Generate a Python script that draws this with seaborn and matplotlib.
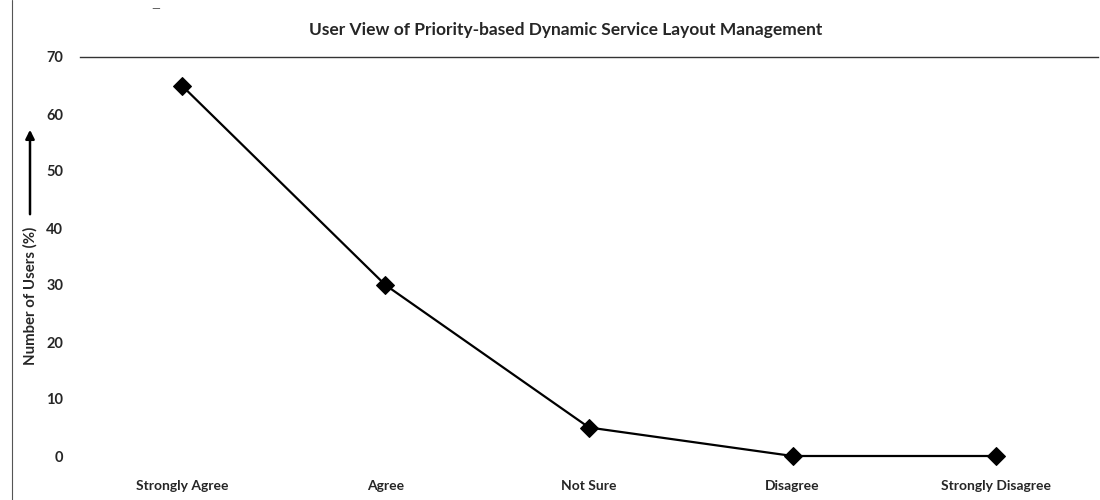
import matplotlib
matplotlib.use("Agg")
import matplotlib.pyplot as plt
import seaborn as sns
import pandas as pd
from matplotlib.lines import Line2D

categories = ["Strongly Agree", "Agree", "Not Sure", "Disagree", "Strongly Disagree"]
users_pct = [65, 30, 5, 0, 0]
y_ticks = [0, 10, 20, 30, 40, 50, 60, 70]
title = "User View of Priority-based Dynamic Service Layout Management"
y_label = "Number of Users (%)"

sns.set_style("white")
plt.rcParams["font.family"] = ["Lato", "DejaVu Sans"]

df = pd.DataFrame({"category": categories, "value": users_pct})

fig = plt.figure(figsize=(11, 5), dpi=100)
ax = fig.add_axes([80 / 1100, 44 / 500, 1018 / 1100, 399 / 500])

sns.lineplot(data=df, x="category", y="value", ax=ax, color="black",
             linewidth=1.6, marker="D", markersize=9, markeredgecolor="black",
             markerfacecolor="black", sort=False, clip_on=False)

ax.set_xlim(-0.5, len(categories) - 0.5)
ax.set_ylim(0, 70)
ax.set_yticks(y_ticks)
ax.set_yticklabels([str(t) for t in y_ticks], fontsize=10.5, fontweight="bold")
ax.set_xticks(range(len(categories)))
ax.set_xticklabels(categories, fontsize=10, fontweight="bold")
ax.tick_params(axis="y", length=0, pad=12)
ax.tick_params(axis="x", length=0, pad=17)
ax.set_xlabel("")
ax.set_ylabel("")
for side in ["left", "right", "bottom"]:
    ax.spines[side].set_visible(False)
ax.spines["top"].set_visible(True)
ax.spines["top"].set_color("#333333")
ax.spines["top"].set_linewidth(1.0)
ax.grid(False)

fig.text(566 / 1100, 1 - 30 / 500, title, ha="center", va="center",
         fontsize=12.5, fontweight="bold")

fig.text(30 / 1100, 1 - 296 / 500, y_label, rotation=90, ha="center", va="center",
         fontsize=10.8, fontweight="bold")
fig.patches.append(matplotlib.patches.FancyArrowPatch(
    (30 / 1100, 1 - 217 / 500), (30 / 1100, 1 - 127 / 500),
    transform=fig.transFigure, arrowstyle="-|>", mutation_scale=13,
    color="black", linewidth=1.8))

fig.lines.append(Line2D([12 / 1100, 12 / 1100], [0, 1], transform=fig.transFigure,
                        color="#555555", linewidth=0.8))
fig.text(156 / 1100, 1 - 9 / 500, "—", ha="center", va="center", fontsize=8,
         color="#444444")

fig.savefig("out.png", dpi=100, facecolor="white")
